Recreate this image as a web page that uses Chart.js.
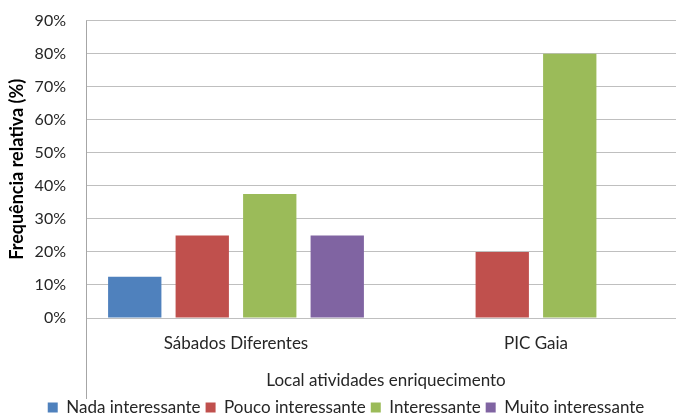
<!DOCTYPE html>
<html>
<head>
<meta charset="utf-8">
<script src="https://cdn.jsdelivr.net/npm/chart.js@4"></script>
<style>
  html, body { margin: 0; padding: 0; background: #fff; overflow: hidden; }
  #wrap { width: 686px; height: 425px; position: relative; top: -9px; }
</style>
</head>
<body>
<div id="wrap"><canvas id="chart"></canvas></div>
<script>
// dados
const locais = ['Sábados Diferentes', 'PIC Gaia'];
const nadaInteressante = [12.5, null];
const poucoInteressante = [25, 20];
const interessante = [37.5, 80];
const muitoInteressante = [25, null];
const yTicks = [0, 10, 20, 30, 40, 50, 60, 70, 80, 90];

const fonte = 'Lato, "Open Sans", sans-serif';

// linha vertical do eixo que desce até ao título
const eixoEsquerdo = {
    id: 'eixoEsquerdo',
    afterDraw(chart) {
        const { ctx, chartArea } = chart;
        ctx.save();
        ctx.strokeStyle = '#a6a6a6';
        ctx.lineWidth = 1;
        ctx.beginPath();
        ctx.moveTo(Math.round(chartArea.left) + 0.5, chartArea.top);
        ctx.lineTo(Math.round(chartArea.left) + 0.5, chartArea.bottom + 81);
        ctx.stroke();
        ctx.restore();
    }
};

document.addEventListener('DOMContentLoaded', function() {
    var ctx = document.getElementById('chart').getContext('2d');
    new Chart(ctx, {
        type: 'bar',
        data: {
            labels: locais,
            datasets: [
                { label: 'Nada interessante', data: nadaInteressante, backgroundColor: '#4f81bd' },
                { label: 'Pouco interessante', data: poucoInteressante, backgroundColor: '#c0504d' },
                { label: 'Interessante', data: interessante, backgroundColor: '#9bbb59' },
                { label: 'Muito interessante', data: muitoInteressante, backgroundColor: '#8064a2' }
            ]
        },
        options: {
            responsive: true,
            maintainAspectRatio: false,
            animation: false,
            skipNull: false,
            categoryPercentage: 0.90,
            barPercentage: 0.79,
            layout: { padding: { top: 0, left: 6, right: 0, bottom: -10 } },
            plugins: {
                tooltip: { enabled: false },
                legend: {
                    position: 'bottom',
                    labels: {
                        boxWidth: 10,
                        boxHeight: 10,
                        padding: 5,
                        color: '#262626',
                        font: { family: fonte, size: 17 }
                    }
                }
            },
            scales: {
                x: {
                    afterFit(axis) { axis.height = 76; },
                    grid: { display: false },
                    border: { display: false },
                    ticks: { color: '#262626', font: { family: fonte, size: 17 }, padding: 7 },
                    title: {
                        display: true,
                        text: 'Local atividades enriquecimento',
                        color: '#262626',
                        font: { family: fonte, size: 17 },
                        padding: { top: 0, bottom: 3 }
                    }
                },
                y: {
                    min: 0,
                    max: 90,
                    afterFit(axis) { axis.width = 80; },
                    afterBuildTicks(axis) { axis.ticks = yTicks.map(v => ({ value: v })); },
                    grid: { color: '#bfbfbf', drawTicks: false },
                    border: { display: false },
                    ticks: {
                        color: '#262626',
                        font: { family: fonte, size: 16 },
                        padding: 20,
                        callback: v => v + '%'
                    },
                    title: {
                        display: true,
                        text: 'Frequência relativa (%)',
                        color: '#000',
                        font: { family: fonte, size: 18, weight: 'bold' },
                        padding: { top: 0, bottom: 0 }
                    }
                }
            }
        },
        plugins: [eixoEsquerdo]
    });
});
</script>
</body>
</html>
